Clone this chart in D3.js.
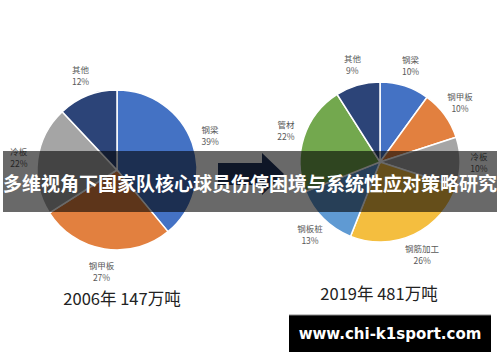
<!DOCTYPE html>
<html><head><meta charset="utf-8">
<script src="https://cdn.jsdelivr.net/npm/d3@7/dist/d3.min.js"></script>
<style>body{margin:0;background:#fff}svg{display:block}</style>
</head><body>
<script>
const leftCategories = ["钢梁","钢甲板","冷板","其他"];
const leftValues = [39,27,22,12];
const leftColors = ["#4472C4","#E2803F","#A5A5A5","#2C4478"];
const rightCategories = ["钢梁","钢甲板","冷板","钢筋加工","钢板桩","管材","其他"];
const rightValues = [10,10,10,26,13,22,9];
const rightColors = ["#4472C4","#E2803F","#A5A5A5","#F4BE3F","#5F9AD3","#73A84E","#2C4478"];
const chartTitles = ["2006年 147万吨","2019年 481万吨"];
const bannerText = "多维视角下国家队核心球员伤停困境与系统性应对策略研究";
const watermark = "www.chi-k1sport.com";

const W=500,H=362;
const svg=d3.select("body").append("svg").attr("width",W).attr("height",H);
const font="'Noto Sans CJK SC','Noto Sans',sans-serif";

function drawPie(cats, vals, colors, cx, cy, r, lOff){
  const pie=d3.pie().sort(null).value(d=>d)(vals);
  const arc=d3.arc().innerRadius(0).outerRadius(r);
  const g=svg.append("g").attr("transform",`translate(${cx},${cy})`);
  g.selectAll("path").data(pie).join("path")
    .attr("d",arc).attr("fill",(d,i)=>colors[i])
    .attr("stroke","#fff").attr("stroke-width",1.5);
  const lr=r+lOff;
  pie.forEach((d,i)=>{
    const a=(d.startAngle+d.endAngle)/2;
    const x=cx+Math.sin(a)*lr*0.97, y=cy-Math.cos(a)*lr;
    const t=svg.append("text").attr("x",x).attr("y",y).attr("text-anchor","middle")
      .attr("font-family",font).attr("font-size",8.5).attr("fill","#595959");
    t.append("tspan").attr("x",x).attr("dy",-2).text(cats[i]);
    t.append("tspan").attr("x",x).attr("dy",12).text(vals[i]+"%");
  });
}
drawPie(leftCategories,leftValues,leftColors,117,170,80,22);
drawPie(rightCategories,rightValues,rightColors,380,162,80,22);

// arrow
svg.append("path")
  .attr("d","M218,163 L262,163 L262,153 L284,174 L262,195 L262,185 L218,185 Z")
  .attr("fill","#233660");

svg.append("text").attr("x",122).attr("y",305).attr("text-anchor","middle")
  .attr("font-family",font).attr("font-size",16.5).attr("fill","#222").text(chartTitles[0]);
svg.append("text").attr("x",379).attr("y",300).attr("text-anchor","middle")
  .attr("font-family",font).attr("font-size",16.5).attr("fill","#222").text(chartTitles[1]);

// banner
svg.append("rect").attr("x",3).attr("y",151).attr("width",494).attr("height",61)
  .attr("fill","rgba(0,0,0,0.59)");
svg.append("text").attr("x",250).attr("y",191).attr("text-anchor","middle")
  .attr("font-family",font).attr("font-weight","bold").attr("font-size",19)
  .attr("fill","#fff").text(bannerText);

// watermark
svg.append("rect").attr("x",289).attr("y",315).attr("width",202).attr("height",37).attr("fill","#000");
svg.append("line").attr("x1",289).attr("x2",491).attr("y1",315).attr("y2",315).attr("stroke","#888").attr("stroke-width",1);
svg.append("text").attr("x",390).attr("y",339).attr("text-anchor","middle")
  .attr("font-family","'DejaVu Sans',sans-serif").attr("font-weight","bold").attr("font-size",15)
  .attr("fill","#fff").text(watermark);
</script>
</body></html>
